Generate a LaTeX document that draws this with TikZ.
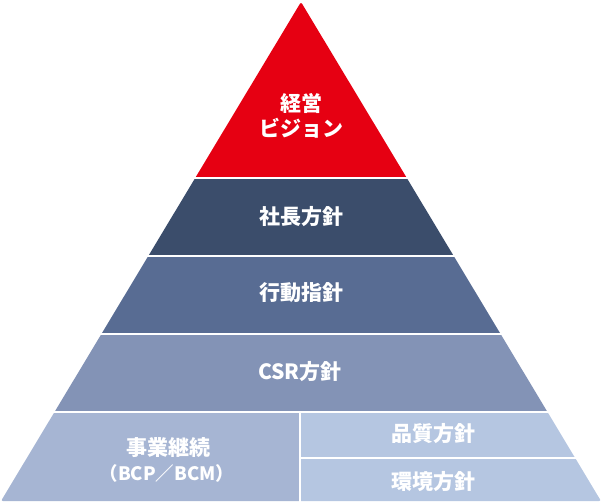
\documentclass[tikz,border=0pt]{standalone}
\usepackage{fontspec}
\setmainfont{Noto Sans CJK JP}
\definecolor{cRed}{HTML}{E60012}
\definecolor{cDark}{HTML}{3B4D6B}
\definecolor{cMid}{HTML}{586C93}
\definecolor{cCsr}{HTML}{8393B6}
\definecolor{cBl}{HTML}{A6B5D3}
\definecolor{cBr}{HTML}{B5C6E1}
\tikzset{lbl/.style={text=white,font=\bfseries\fontsize{21}{25}\selectfont,inner sep=0pt,align=center}}
\begin{document}
\begin{tikzpicture}[x=1pt,y=-1pt]
\useasboundingbox (0,0) rectangle (602,503);
\begin{scope}
\clip[rounded corners=2pt] (301,2) -- (601,501) -- (1,501) -- cycle;
\fill[cRed] (0,0) rectangle (602,177);
\fill[cDark] (0,179) rectangle (602,255);
\fill[cMid] (0,257) rectangle (602,333);
\fill[cCsr] (0,335) rectangle (602,411);
\fill[cBl] (0,413) rectangle (299,503);
\fill[cBr] (301,413) rectangle (602,457);
\fill[cBr] (301,459) rectangle (602,503);
\end{scope}
\node[lbl] (vision) at (301,116) {経営\\ビジョン};
\node[lbl] (pres) at (301,217) {社長方針};
\node[lbl] (act) at (301,293) {行動指針};
\node[lbl] (csr) at (300,372) {CSR方針};
\node[lbl] (bcp) at (168,448) {事業継続};
\node[lbl,font=\bfseries\fontsize{18.5}{20}\selectfont] (bcm) at (167,473) {（BCP／BCM）};
\node[lbl] (qual) at (433,434) {品質方針};
\node[lbl] (env) at (433,482) {環境方針};
\end{tikzpicture}
\end{document}
